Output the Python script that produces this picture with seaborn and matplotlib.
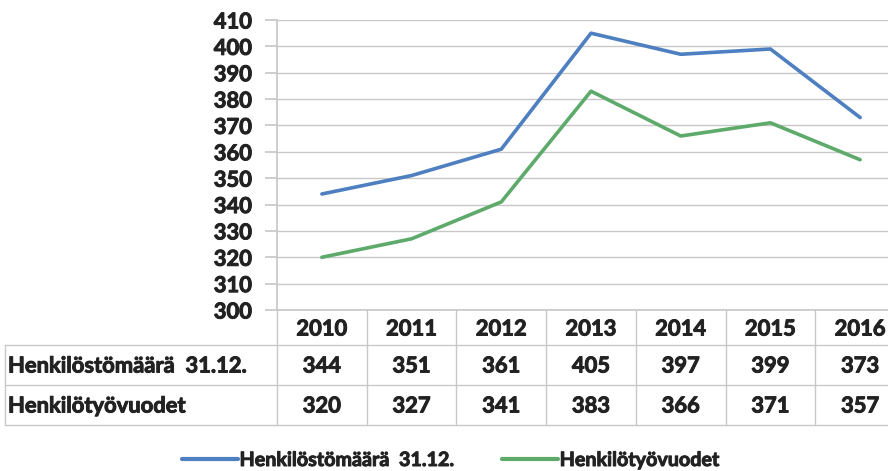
import matplotlib
matplotlib.use("Agg")
import matplotlib.pyplot as plt
import matplotlib.transforms as mtransforms
import matplotlib.patheffects as pe
from matplotlib.lines import Line2D
import numpy as np
import pandas as pd
import seaborn as sns

# data
years = ["2010", "2011", "2012", "2013", "2014", "2015", "2016"]
henkilostomaara = [344, 351, 361, 405, 397, 399, 373]
henkilotyovuodet = [320, 327, 341, 383, 366, 371, 357]
series_names = ["Henkilöstömäärä  31.12.", "Henkilötyövuodet"]
colors = ["#4E7FC0", "#5DAA6A"]

sns.set_theme(style="white")
plt.rcParams['font.family'] = ['Lato', 'DejaVu Sans']
plt.rcParams['font.weight'] = 'bold'

df = pd.DataFrame({
    "x": list(range(len(years))) * 2,
    "value": henkilostomaara + henkilotyovuodet,
    "series": [series_names[0]] * len(years) + [series_names[1]] * len(years),
})

FS = 15.8
TXT = "#222222"
BOLD = [pe.withStroke(linewidth=0.7, foreground=TXT)]

fig = plt.figure(figsize=(8.88, 4.71), dpi=100)
ax = fig.add_axes([277 / 888, 1 - 310 / 471, 628 / 888, 290 / 471])

sns.lineplot(data=df, x="x", y="value", hue="series", palette=colors,
             linewidth=2.6, ax=ax, legend=False)

ax.set_xlim(-0.5, len(years) - 0.5)
ax.set_ylim(300, 410)
ax.set_yticks(np.arange(300, 411, 10))
ax.set_xticks([])
ax.set_xlabel("")
ax.set_ylabel("")
ax.grid(axis="y", color="#c8c8c8", linewidth=1.0)
for s in ["top", "right"]:
    ax.spines[s].set_visible(False)
ax.spines["left"].set_color("#c8c8c8")
ax.spines["bottom"].set_color("#c8c8c8")
ax.tick_params(axis="y", left=True, length=9, color="#c8c8c8", pad=9,
               labelsize=FS, labelcolor=TXT)
for lab in ax.get_yticklabels():
    lab.set_fontweight("bold")
    lab.set_path_effects(BOLD)

# data table below the axes
trans = mtransforms.blended_transform_factory(ax.transData, fig.transFigure)
fy = lambda p: 1 - p / 471
line_kw = dict(color="#c8c8c8", linewidth=1.0, clip_on=False)

for p in [345, 385, 425]:
    fig.add_artist(Line2D([5 / 888, 1.02], [fy(p), fy(p)], transform=fig.transFigure, **line_kw))
fig.add_artist(Line2D([5 / 888, 5 / 888], [fy(345), fy(425)], transform=fig.transFigure, **line_kw))
for i in range(len(years) + 1):
    fig.add_artist(Line2D([i - 0.5, i - 0.5], [fy(310), fy(425)], transform=trans, **line_kw))

cell = dict(fontsize=FS, fontweight="bold", color=TXT, va="center", path_effects=BOLD)
for i, y in enumerate(years):
    fig.text(i, fy(329), y, transform=trans, ha="center", **cell)
    fig.text(i, fy(366), str(henkilostomaara[i]), transform=trans, ha="center", **cell)
    fig.text(i, fy(406), str(henkilotyovuodet[i]), transform=trans, ha="center", **cell)

fig.text(8 / 888, fy(366), series_names[0], ha="left", **cell)
fig.text(8 / 888, fy(406), series_names[1], ha="left", **cell)

# legend
handles = [Line2D([], [], color=c, linewidth=3) for c in colors]
leg = fig.legend(handles, series_names, loc="center", bbox_to_anchor=(451 / 888, fy(460)),
                 ncol=2, frameon=False, handlelength=2.8, handletextpad=0.1,
                 columnspacing=2.4, prop={"size": 14.2, "weight": "bold"})
for t in leg.get_texts():
    t.set_color(TXT)
    t.set_path_effects(BOLD)

fig.savefig("out.png", dpi=100)
